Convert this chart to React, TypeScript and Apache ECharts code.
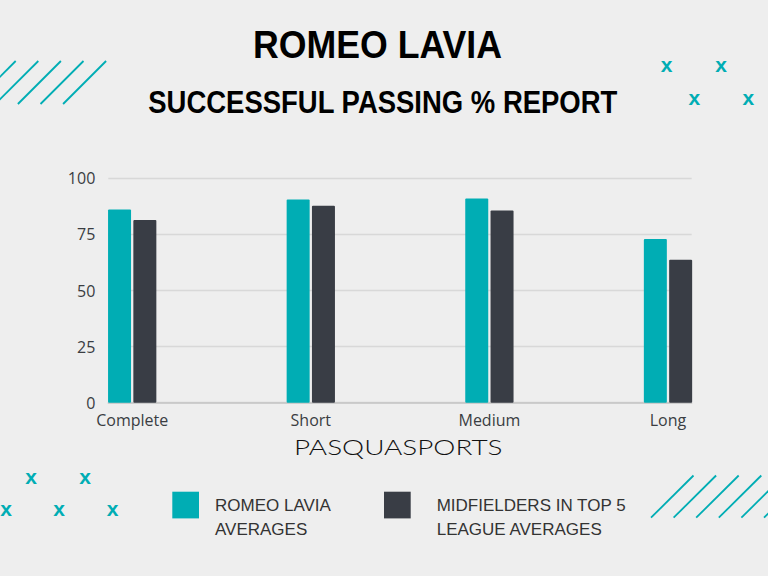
import React, { useEffect, useRef } from "react";
import * as echarts from "echarts";

const categories = ["Complete", "Short", "Medium", "Long"];
const laviaValues = [86.1, 90.6, 91.0, 72.9];
const top5Values = [81.4, 87.8, 85.7, 63.7];
const yMin = 0;
const yMax = 100;
const yInterval = 25;
const seriesNames = ["ROMEO LAVIA AVERAGES", "MIDFIELDERS IN TOP 5 LEAGUE AVERAGES"];
const legendLines = [["ROMEO LAVIA", "AVERAGES"], ["MIDFIELDERS IN TOP 5", "LEAGUE AVERAGES"]];
const titleText = "ROMEO LAVIA";
const subtitleText = "SUCCESSFUL PASSING % REPORT";
const brandText = "PASQUASPORTS";

const TEAL = "#00adb4";
const DARK = "#393d45";
const BG = "#eeeeee";

function buildDecor() {
  const els: any[] = [];
  // top-left diagonal lines
  for (let k = 0; k < 5; k++) {
    const tx = 15.7 + 22.6 * k;
    els.push({
      type: "line",
      shape: { x1: tx - 43, y1: 104, x2: tx, y2: 61 },
      style: { stroke: TEAL, lineWidth: 1.8 },
      silent: true,
    });
  }
  // bottom-right diagonal lines
  for (let k = 0; k < 6; k++) {
    const bx = 651 + 22.6 * k;
    els.push({
      type: "line",
      shape: { x1: bx, y1: 517.7, x2: bx + 42.5, y2: 475.5 },
      style: { stroke: TEAL, lineWidth: 1.8 },
      silent: true,
    });
  }
  const xs = [
    [666.7, 66.7], [721, 66.7], [694.3, 99.3], [748.3, 99.3],
    [31, 478.3], [85, 478.3], [6, 510], [59, 510], [112.7, 510],
  ];
  xs.forEach(([x, y]) => {
    els.push({
      type: "text",
      x,
      y: y - 2,
      silent: true,
      style: {
        text: "x",
        fill: TEAL,
        fontSize: 21,
        fontWeight: "bold",
        fontFamily: "Liberation Sans",
        align: "center",
        verticalAlign: "middle",
      },
    });
  });
  els.push({
    type: "text",
    x: 377.5,
    y: 44.5,
    scaleX: 0.903,
    style: {
      text: titleText,
      fill: "#000000",
      fontSize: 39.5,
      fontWeight: "bold",
      fontFamily: "Liberation Sans",
      align: "center",
      verticalAlign: "middle",
    },
  });
  els.push({
    type: "text",
    x: 382.8,
    y: 102,
    scaleX: 0.895,
    style: {
      text: subtitleText,
      fill: "#000000",
      fontSize: 30.7,
      fontWeight: "bold",
      fontFamily: "Liberation Sans",
      align: "center",
      verticalAlign: "middle",
    },
  });
  els.push({
    type: "text",
    x: 398.3,
    y: 447,
    scaleX: 1.33,
    style: {
      text: brandText,
      fill: "#111111",
      fontSize: 21,
      fontWeight: 300,
      fontFamily: "Lato, 'Open Sans', sans-serif",
      align: "center",
      verticalAlign: "middle",
    },
  });
  return els;
}

export default function App() {
  const ref = useRef<HTMLDivElement>(null);
  useEffect(() => {
    document.body.style.margin = "0";
    document.body.style.background = BG;
    const chart = echarts.init(ref.current!, null, { renderer: "svg" });
    const gridTop = 178.3;
    const gridBottom = 576 - 402.7;
    const legendText = {
      fontSize: 17,
      color: "#333333",
      fontFamily: "Liberation Sans",
      lineHeight: 24.5,
    };
    chart.setOption({
      animation: false,
      backgroundColor: BG,
      grid: [
        { left: 108.3, right: 768 - 691.7, top: gridTop, bottom: gridBottom },
        { left: 132.2, right: 768 - 668, top: gridTop, bottom: gridBottom },
      ],
      xAxis: [
        {
          type: "category",
          gridIndex: 0,
          data: categories,
          axisLine: { show: true, lineStyle: { color: "#c4c4c4", width: 1.5 } },
          axisTick: { show: false },
          axisLabel: { show: false },
          splitLine: { show: false },
        },
        {
          type: "category",
          gridIndex: 1,
          data: categories,
          boundaryGap: false,
          axisLine: { show: false },
          axisTick: { show: false },
          splitLine: { show: false },
          axisLabel: {
            interval: 0,
            margin: 9,
            fontSize: 16,
            color: "#3a3d42",
            fontFamily: "'Open Sans', sans-serif",
          },
        },
      ],
      yAxis: [
        {
          type: "value",
          gridIndex: 0,
          min: yMin,
          max: yMax,
          interval: yInterval,
          axisLine: { show: false },
          axisTick: { show: false },
          axisLabel: {
            margin: 13,
            fontSize: 16,
            color: "#3a3d42",
            fontFamily: "'Open Sans', sans-serif",
          },
          splitLine: { show: true, lineStyle: { color: "#d8d8d8", width: 1.3 } },
        },
        {
          type: "value",
          gridIndex: 1,
          min: yMin,
          max: yMax,
          interval: yInterval,
          show: false,
          splitLine: { show: false },
        },
      ],
      legend: [
        {
          data: [seriesNames[0]],
          left: 172.3,
          top: 468.3,
          padding: 0,
          itemWidth: 26.7,
          itemHeight: 26.7,
          icon: "rect",
          selectedMode: false,
          formatter: () => "\n" + legendLines[0].join("\n"),
          textStyle: { ...legendText, padding: [0, 0, 0, 11] },
        },
        {
          data: [seriesNames[1]],
          left: 384,
          top: 468.3,
          padding: 0,
          itemWidth: 26.7,
          itemHeight: 26.7,
          icon: "rect",
          selectedMode: false,
          formatter: () => "\n" + legendLines[1].join("\n"),
          textStyle: { ...legendText, padding: [0, 0, 0, 21] },
        },
      ],
      series: [
        {
          name: seriesNames[0],
          type: "bar",
          xAxisIndex: 1,
          yAxisIndex: 1,
          data: laviaValues,
          barWidth: 23,
          barGap: "10%",
          itemStyle: { color: TEAL, borderRadius: 1 },
        },
        {
          name: seriesNames[1],
          type: "bar",
          xAxisIndex: 1,
          yAxisIndex: 1,
          data: top5Values,
          barWidth: 23,
          barGap: "10%",
          itemStyle: { color: DARK, borderRadius: 1 },
        },
      ],
      graphic: buildDecor(),
    });
    return () => chart.dispose();
  }, []);
  return (
    <div
      ref={ref}
      style={{ position: "fixed", left: 0, top: 0, width: 768, height: 576 }}
    />
  );
}
